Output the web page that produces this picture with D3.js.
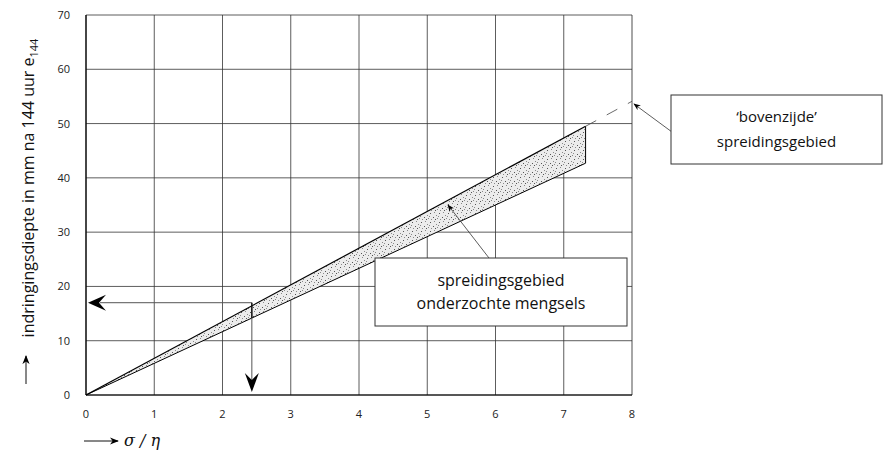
<!DOCTYPE html>
<html>
<head>
<meta charset="utf-8">
<script src="https://cdn.jsdelivr.net/npm/d3@7"></script>
<style>
  body { margin: 0; background: #fff; }
  svg { display: block; font-family: "Open Sans", "DejaVu Sans", sans-serif; }
</style>
</head>
<body>
<div class="container-fluid"></div>
<script>
// axis ticks
var xTicks = [0, 1, 2, 3, 4, 5, 6, 7, 8];
var yTicks = [0, 10, 20, 30, 40, 50, 60, 70];

// spreidingsgebied (band) boundaries, sigma/eta -> e144
var upperLine = [[0, 0], [7.32, 49.5]];
var lowerLine = [[0, 0], [7.32, 42.7]];
// dashed 'bovenzijde' extension
var upperExt = [[7.32, 49.5], [8, 54.1]];
// reading example
var readX = 2.43;
var readY = 17;

var width = 887, height = 463;
var svg = d3.select(".container-fluid").append("svg")
    .attr("width", width).attr("height", height);

var x = d3.scaleLinear().domain([0, 8]).range([86, 632]);
var y = d3.scaleLinear().domain([0, 70]).range([395, 15]);

// stipple pattern
var defs = svg.append("defs");
var pat = defs.append("pattern").attr("id", "stip")
    .attr("patternUnits", "userSpaceOnUse").attr("width", 9).attr("height", 9);
pat.append("rect").attr("width", 9).attr("height", 9).attr("fill", "#ececec");
[[1,1],[5,2],[2,5],[7,6],[4,8],[8,3],[3,3],[6,0]].forEach(function(p, i){
    pat.append("rect").attr("x", p[0]).attr("y", p[1]).attr("width", 1).attr("height", 1)
      .attr("fill", i % 3 ? "#8a8a8a" : "#555");
});
defs.append("marker").attr("id", "ah").attr("viewBox", "0 0 10 10")
    .attr("refX", 9).attr("refY", 5).attr("markerWidth", 9).attr("markerHeight", 9)
    .attr("orient", "auto")
  .append("path").attr("d", "M0,1 L10,5 L0,9 L3,5 Z").attr("fill", "#000");

// grid
svg.append("g").selectAll("line").data(xTicks).enter().append("line")
    .attr("x1", function(d){ return x(d); }).attr("x2", function(d){ return x(d); })
    .attr("y1", y(0)).attr("y2", y(70))
    .attr("stroke", function(d){ return d == 8 ? "#888" : "#333"; })
    .attr("stroke-width", function(d){ return d == 8 ? 1.5 : 0.8; });
svg.append("g").selectAll("line").data(yTicks).enter().append("line")
    .attr("x1", x(0)).attr("x2", x(8))
    .attr("y1", function(d){ return y(d); }).attr("y2", function(d){ return y(d); })
    .attr("stroke", "#333").attr("stroke-width", 0.8);

// axes lines
svg.append("line").attr("x1", x(0)).attr("x2", x(0)).attr("y1", y(0)).attr("y2", y(70))
    .attr("stroke", "#000").attr("stroke-width", 1.2);
svg.append("line").attr("x1", x(0)).attr("x2", x(8)).attr("y1", y(0)).attr("y2", y(0))
    .attr("stroke", "#000").attr("stroke-width", 1.2);

// tick labels
svg.append("g").selectAll("text").data(xTicks).enter().append("text")
    .attr("x", function(d){ return x(d); }).attr("y", 418)
    .attr("text-anchor", "middle").attr("font-size", 11).attr("fill", "#222")
    .text(function(d){ return d; });
svg.append("g").selectAll("text").data(yTicks).enter().append("text")
    .attr("x", 70).attr("y", function(d){ return y(d) + 4; })
    .attr("text-anchor", "end").attr("font-size", 11).attr("fill", "#222")
    .text(function(d){ return d; });

// band
var band = upperLine.concat(lowerLine.slice().reverse());
var line = d3.line().x(function(d){ return x(d[0]); }).y(function(d){ return y(d[1]); });
svg.append("path").attr("d", line(band) + "Z")
    .attr("fill", "url(#stip)").attr("stroke", "none");
svg.append("path").attr("d", line(upperLine)).attr("fill", "none").attr("stroke", "#000").attr("stroke-width", 1.2);
svg.append("path").attr("d", line(lowerLine)).attr("fill", "none").attr("stroke", "#000").attr("stroke-width", 1);
svg.append("path").attr("d", line([upperLine[1], lowerLine[1]])).attr("fill", "none").attr("stroke", "#000").attr("stroke-width", 1);
svg.append("path").attr("d", line(upperExt)).attr("fill", "none").attr("stroke", "#444")
    .attr("stroke-width", 0.8).attr("stroke-dasharray", "12,12");

// reading example lines
svg.append("line").attr("x1", x(readX)).attr("x2", x(0) + 14)
    .attr("y1", y(readY)).attr("y2", y(readY)).attr("stroke", "#555").attr("stroke-width", 1);
svg.append("line").attr("x1", x(readX)).attr("x2", x(readX))
    .attr("y1", y(readY)).attr("y2", y(0) - 12).attr("stroke", "#555").attr("stroke-width", 1);
svg.append("line").attr("x1", x(readX)).attr("x2", x(readX))
    .attr("y1", y(readY)).attr("y2", y(readX * 5.83)).attr("stroke", "#000").attr("stroke-width", 1.2);
var lx = x(0) + 2, ly = y(readY);
svg.append("path").attr("d", "M" + lx + "," + ly + " L" + (lx + 18) + "," + (ly - 8) +
    " L" + (lx + 11) + "," + ly + " L" + (lx + 18) + "," + (ly + 8) + " Z").attr("fill", "#000");
var dx = x(readX), dy = y(0) - 3;
svg.append("path").attr("d", "M" + dx + "," + dy + " L" + (dx - 7) + "," + (dy - 19) +
    " L" + dx + "," + (dy - 12) + " L" + (dx + 7) + "," + (dy - 19) + " Z").attr("fill", "#000");

// annotation boxes
function box(bx, by, bw, bh, lines, fs, lh) {
    svg.append("rect").attr("x", bx).attr("y", by).attr("width", bw).attr("height", bh)
        .attr("fill", "#fff").attr("stroke", "#333").attr("stroke-width", 1);
    lines.forEach(function(t, i){
        svg.append("text").attr("x", bx + bw / 2).attr("y", by + bh / 2 + (i - (lines.length - 1) / 2) * lh + fs * 0.35)
            .attr("text-anchor", "middle").attr("font-size", fs).attr("fill", "#111").text(t);
    });
}
svg.append("line").attr("x1", 672).attr("y1", 132).attr("x2", 634).attr("y2", 104)
    .attr("stroke", "#333").attr("stroke-width", 0.8).attr("marker-end", "url(#ah)");
box(671, 95, 211, 69, ["\u2018bovenzijde\u2019", "spreidingsgebied"], 15, 25);
svg.append("line").attr("x1", 489).attr("y1", 258).attr("x2", 448).attr("y2", 205)
    .attr("stroke", "#333").attr("stroke-width", 0.8).attr("marker-end", "url(#ah)");
box(375, 258, 252, 68, ["spreidingsgebied", "onderzochte mengsels"], 16, 23);

// y axis title
var yt = svg.append("g").attr("transform", "translate(34,188) rotate(-90)");
var ytext = yt.append("text").attr("text-anchor", "middle").attr("font-size", 16).attr("fill", "#111");
ytext.append("tspan").text("indringingsdiepte in mm na 144 uur e");
ytext.append("tspan").attr("font-size", 11).attr("dy", 4).text("144");
// arrow for y title
svg.append("line").attr("x1", 26).attr("x2", 26).attr("y1", 384).attr("y2", 356)
    .attr("stroke", "#111").attr("stroke-width", 1).attr("marker-end", "url(#ah)");

// x axis title
svg.append("line").attr("x1", 84).attr("x2", 118).attr("y1", 441).attr("y2", 441)
    .attr("stroke", "#111").attr("stroke-width", 1).attr("marker-end", "url(#ah)");
svg.append("text").attr("x", 124).attr("y", 446).attr("font-size", 16).attr("fill", "#111")
    .attr("font-family", "'DejaVu Serif', serif").attr("font-style", "italic")
    .text("\u03c3 / \u03b7");
</script>
</body>
</html>
